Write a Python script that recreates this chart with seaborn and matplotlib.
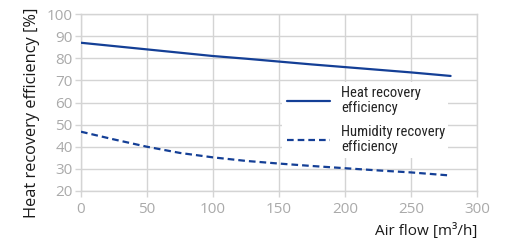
import matplotlib
matplotlib.use("Agg")
import matplotlib.pyplot as plt
import seaborn as sns
import pandas as pd

airflow = [0, 25, 50, 75, 100, 125, 150, 175, 200, 225, 250, 280]
heat = [87.0, 85.5, 84.0, 82.5, 81.0, 79.8, 78.5, 77.2, 76.0, 74.8, 73.6, 72.0]
humidity = [46.8, 43.3, 40.0, 37.2, 35.2, 33.6, 32.4, 31.3, 30.3, 29.3, 28.4, 27.0]
series_names = ["Heat recovery\nefficiency", "Humidity recovery\nefficiency"]
xticks = [0, 50, 100, 150, 200, 250, 300]
yticks = [20, 30, 40, 50, 60, 70, 80, 90, 100]

sns.set_theme(style="white")
plt.rcParams['font.family'] = ['Open Sans', 'DejaVu Sans']

df = pd.DataFrame({
    "x": airflow * 2,
    "y": heat + humidity,
    "series": [series_names[0]] * len(airflow) + [series_names[1]] * len(airflow),
})

color = "#143f96"
fig = plt.figure(figsize=(5.08, 2.40), dpi=100)
ax = fig.add_axes([81/508, 1-191/240, 396/508, 177/240])

sns.lineplot(data=df, x="x", y="y", hue="series", style="series",
             palette={series_names[0]: color, series_names[1]: color},
             dashes={series_names[0]: "", series_names[1]: (3, 1.8)},
             linewidth=1.6, ax=ax, legend=True)
for ln in ax.get_lines():
    ln.set_zorder(3)

ax.set_xlim(0, 300)
ax.set_ylim(20, 100)
ax.set_xticks(xticks)
ax.set_yticks(yticks)
ax.grid(True, color="#d4d4d4", linewidth=1)
for s in ax.spines.values():
    s.set_color("#d4d4d4")
    s.set_linewidth(1)
ax.tick_params(axis="both", colors="#d4d4d4", labelsize=11, length=4, width=1,
               bottom=True, left=True, direction="out")
ax.tick_params(axis="both", labelcolor="#aaaaaa")
ax.tick_params(axis="x", pad=4)
ax.tick_params(axis="y", pad=2)

ax.set_xlabel("Air flow [m³/h]", loc="right", fontsize=11, color="#1a1a1a", labelpad=4)
ax.set_ylabel("Heat recovery efficiency [%]", fontsize=11.8, color="#1a1a1a")
ax.yaxis.set_label_coords(-0.104, (191-113)/177)

handles, labels = ax.get_legend_handles_labels()
leg = ax.legend(handles, labels, loc="center left",
                bbox_to_anchor=((275-81)/396, (191-162)/177, (455-275)/396, (162-78)/177),
                mode="expand", frameon=True, facecolor="white", edgecolor="none",
                framealpha=1, fancybox=False, borderpad=0.3, handlelength=3.0,
                handletextpad=0.75, labelspacing=0.75,
                prop={"family": ["Roboto Condensed", "Roboto"], "size": 10.5})
for t in leg.get_texts():
    t.set_color("#222222")
    t.set_linespacing(1.05)
leg.set_zorder(1)

fig.savefig("out.png", dpi=100)
